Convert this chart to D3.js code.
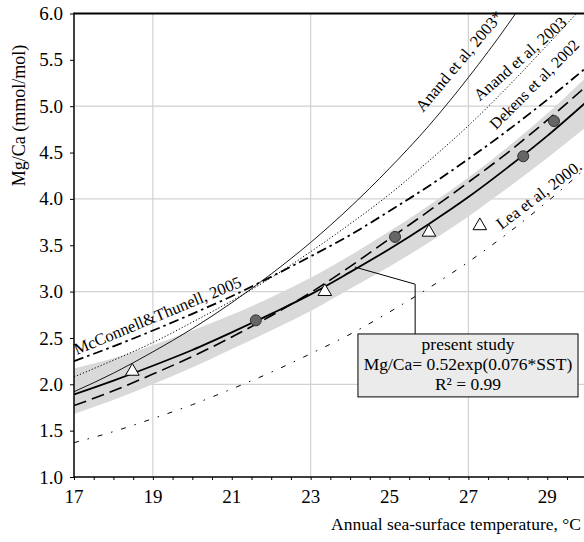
<!DOCTYPE html>
<html><head><meta charset="utf-8">
<script src="https://cdn.jsdelivr.net/npm/d3@7"></script>
<style>body{margin:0;background:#fff}svg{display:block}text{font-family:"Liberation Serif","Times New Roman",serif;fill:#000}</style>
</head><body><div id="chart"></div>
<script>
// ---- data ----
const sst = [17,18,19,20,21,22,23,24,25,26,27,28,29,30];
const presentStudy = [1.89,2.04,2.20,2.37,2.56,2.76,2.97,3.21,3.46,3.73,4.02,4.34,4.68,5.05];
const bandUpper    = [2.17,2.28,2.42,2.58,2.75,2.94,3.15,3.39,3.65,3.93,4.23,4.56,4.92,5.32];
const bandLower    = [1.68,1.83,2.00,2.18,2.38,2.58,2.79,3.03,3.27,3.53,3.81,4.12,4.44,4.78];
const anandStar    = [1.92,2.12,2.35,2.60,2.88,3.19,3.53,3.91,4.33,4.79,5.31,5.88,6.51,7.20];
const anand        = [2.08,2.26,2.45,2.67,2.90,3.15,3.43,3.73,4.05,4.41,4.79,5.21,5.66,6.12];
const mcconnell    = [2.25,2.41,2.58,2.76,2.95,3.16,3.38,3.61,3.87,4.14,4.43,4.74,5.07,5.42];
const dekens       = [1.77,1.93,2.11,2.30,2.51,2.74,2.99,3.27,3.57,3.87,4.18,4.50,4.85,5.22];
const lea          = [1.37,1.49,1.63,1.78,1.95,2.13,2.33,2.54,2.78,3.04,3.32,3.63,3.97,4.34];
const circleSST = [21.61,25.14,28.39,29.17];
const circleMg  = [2.69,3.59,4.46,4.84];
const triSST = [18.48,23.36,26.00,27.29];
const triMg  = [2.14,3.00,3.64,3.71];
const xTicks = [17,19,21,23,25,27,29];
const yTicks = [1.0,1.5,2.0,2.5,3.0,3.5,4.0,4.5,5.0,5.5,6.0];
const xGrid = [19,23,27];
const yGrid = [2,3,4,5];
const labels = ["Anand et al, 2003*","Anand et al, 2003","Dekens et al, 2002","Lea et al, 2000.","McConnell&Thunell, 2005"];
const legendLines = ["present study","Mg/Ca= 0.52exp(0.076*SST)","R² = 0.99"];

// ---- drawing ----
const W = 584, H = 542;
const svg = d3.select("#chart").append("svg").attr("width", W).attr("height", H);
const x = d3.scaleLinear().domain([17,30]).range([74, 586.7]);
const y = d3.scaleLinear().domain([1,6]).range([477, 13.5]);

svg.append("defs").append("clipPath").attr("id","clip")
  .append("rect").attr("x",74).attr("y",13.5).attr("width",W-74).attr("height",477-13.5);

// grid
svg.selectAll(".gx").data(xGrid).join("line")
  .attr("x1",d=>x(d)).attr("x2",d=>x(d)).attr("y1",y(6)).attr("y2",y(1))
  .attr("stroke","#d2d2d2").attr("stroke-width",1.2);
svg.selectAll(".gy").data(yGrid).join("line")
  .attr("x1",x(17)).attr("x2",W).attr("y1",d=>y(d)).attr("y2",d=>y(d))
  .attr("stroke","#d2d2d2").attr("stroke-width",1.2);

const g = svg.append("g").attr("clip-path","url(#clip)");

// band
const area = d3.area().x((d,i)=>x(sst[i])).y0((d,i)=>y(bandLower[i])).y1((d,i)=>y(bandUpper[i])).curve(d3.curveMonotoneX);
g.append("path").datum(sst).attr("d",area).attr("fill","#d9d9d9");

const line = arr => d3.line().x((d,i)=>x(sst[i])).y((d,i)=>y(arr[i])).curve(d3.curveMonotoneX)(sst);
const series = [
  {v:lea, w:1, dash:"5,9,1.5,9"},
  {v:anandStar, w:0.9, dash:null},
  {v:anand, w:1, dash:"1.2,2"},
  {v:mcconnell, w:1.8, dash:"10,4,2.5,4"},
  {v:dekens, w:1.6, dash:"13,6"},
  {v:presentStudy, w:1.8, dash:null}
];
series.forEach(s=>{
  g.append("path").attr("d",line(s.v)).attr("fill","none").attr("stroke","#000")
   .attr("stroke-width",s.w).attr("stroke-dasharray",s.dash);
});

// points
g.selectAll(".tri").data(triSST).join("path")
  .attr("transform",(d,i)=>`translate(${x(d)},${y(triMg[i])})`)
  .attr("d",d3.symbol().type(d3.symbolTriangle).size(80))
  .attr("fill","#fff").attr("stroke","#000").attr("stroke-width",1);
g.selectAll(".circ").data(circleSST).join("circle")
  .attr("cx",d=>x(d)).attr("cy",(d,i)=>y(circleMg[i])).attr("r",5.5)
  .attr("fill","#666").attr("stroke","#333").attr("stroke-width",1);

// curve labels (anchor in data units, angle in degrees, font size)
const labAnchors = [[25.85,4.93,-50,16.5],[27.29,5.05,-41.4,16.5],[27.7,4.74,-45,16],[27.84,3.665,-37.1,16.5],[17.07,2.316,-22.5,16.5]];
labels.forEach((t,i)=>{
  const a = labAnchors[i];
  svg.append("text").attr("transform",`translate(${x(a[0])},${y(a[1])}) rotate(${a[2]})`)
    .attr("font-size",a[3]).text(t);
});

// legend box with leader
svg.append("path").attr("d",d3.line()([[x(24.12),y(3.265)],[x(25.65),y(3.08)],[x(25.65),y(2.543)]]))
  .attr("fill","none").attr("stroke","#000").attr("stroke-width",1);
svg.append("rect").attr("x",x(24.2)).attr("y",y(2.543)).attr("width",x(29.78)-x(24.2)).attr("height",y(1.864)-y(2.543))
  .attr("fill","#ebebeb").attr("stroke","#000").attr("stroke-width",1);
const lcx = (x(24.2)+x(29.78))/2;
legendLines.forEach((t,i)=>{
  svg.append("text").attr("x",lcx).attr("y",y(2.543)+16.5+i*19.8).attr("text-anchor","middle").attr("font-size",17.5).text(t);
});

// axes
const xAxis = d3.axisBottom(x).tickValues(d3.range(17,30.01,0.5)).tickSize(3).tickFormat("");
const xa = svg.append("g").attr("transform",`translate(0,${y(1)})`).call(xAxis);
xa.select(".domain").remove();
xa.selectAll("line").attr("stroke","#000");
svg.append("line").attr("x1",x(17)).attr("x2",W).attr("y1",y(1)).attr("y2",y(1)).attr("stroke","#000").attr("stroke-width",1.5);
svg.selectAll(".xl").data(xTicks).join("text").attr("x",d=>x(d)).attr("y",503).attr("text-anchor","middle").attr("font-size",19).text(d=>d);

const yAxis = d3.axisLeft(y).tickValues(yTicks).tickSize(4).tickFormat(d3.format(".1f"));
const ya = svg.append("g").attr("transform",`translate(${x(17)},0)`).call(yAxis);
ya.select(".domain").remove();
ya.selectAll("line").attr("stroke","#000");
ya.selectAll("text").attr("font-size",19).attr("font-family","Liberation Serif").attr("x",-11);
svg.append("line").attr("x1",x(17)).attr("x2",x(17)).attr("y1",y(6)-1).attr("y2",y(1)).attr("stroke","#000").attr("stroke-width",1.5);
svg.append("line").attr("x1",x(17)).attr("x2",W).attr("y1",y(6)).attr("y2",y(6)).attr("stroke","#000").attr("stroke-width",2);

svg.append("text").attr("transform",`translate(25,${y(4.9)}) rotate(-90)`).attr("text-anchor","middle").attr("font-size",18).text("Mg/Ca (mmol/mol)");
svg.append("text").attr("x",581).attr("y",530).attr("text-anchor","end").attr("font-size",17.5).text("Annual sea-surface temperature, °C");
</script></body></html>
